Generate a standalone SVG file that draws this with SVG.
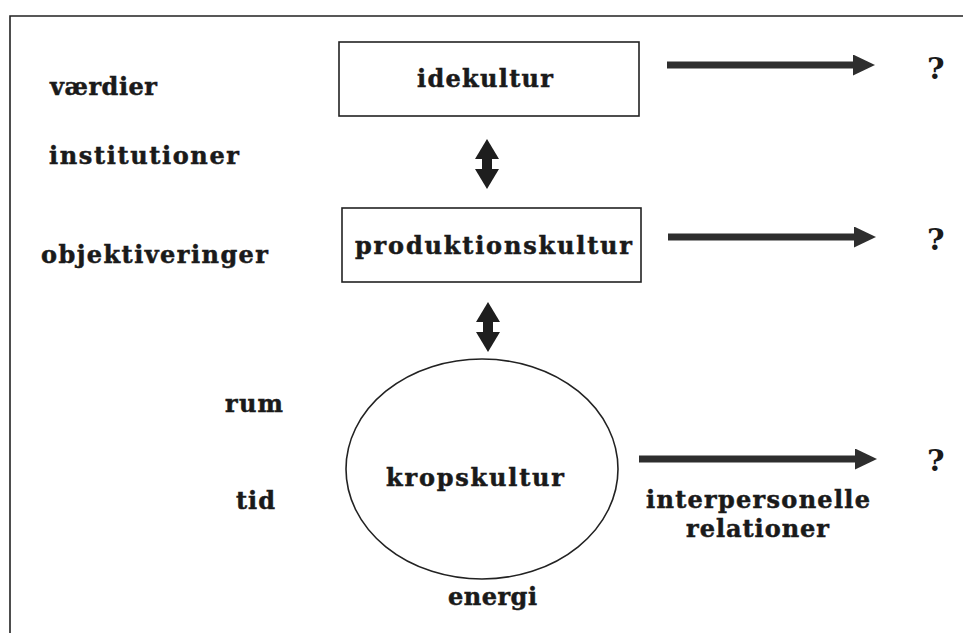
<svg xmlns="http://www.w3.org/2000/svg" width="963" height="633" viewBox="0 0 963 633">
<style>
.t{font-family:"DejaVu Serif","Liberation Serif",serif;font-weight:bold;font-size:24px;fill:#1a1a1a;stroke:#1a1a1a;stroke-width:0.5}
.q{font-family:"DejaVu Serif","Liberation Serif",serif;font-weight:bold;font-size:30px;fill:#1a1a1a}
.box{fill:#fff;stroke:#222;stroke-width:1.6}
.arr{stroke:#2e2e2e;stroke-width:7;fill:none}
.darr{stroke:#1e1e1e;stroke-width:10;fill:none}
</style>
<defs>
<marker id="head" markerUnits="userSpaceOnUse" markerWidth="23" markerHeight="22" refX="0" refY="10.5" orient="auto">
<path d="M0,0 L22,10.5 L0,21 z" fill="#2e2e2e"/>
</marker>
<marker id="dhead" markerUnits="userSpaceOnUse" markerWidth="21" markerHeight="25" refX="0" refY="12" orient="auto-start-reverse">
<path d="M0,0 L20,12 L0,24 z" fill="#1e1e1e"/>
</marker>
</defs>
<rect width="963" height="633" fill="#fff"/>
<g id="frame">
<path d="M10,633 L10,16 L963,16" fill="none" stroke="#222" stroke-width="1.6"/>
</g>
<g id="idekultur">
<rect class="box" x="339" y="42" width="300" height="74"/>
<text class="t" x="417" y="87" textLength="136" lengthAdjust="spacing">idekultur</text>
</g>
<g id="produktionskultur">
<rect class="box" x="342" y="208" width="299" height="74"/>
<text class="t" x="355" y="254" textLength="277" lengthAdjust="spacing">produktionskultur</text>
</g>
<g id="kropskultur">
<ellipse cx="482" cy="469" rx="136" ry="110" fill="#fff" stroke="#222" stroke-width="1.6"/>
<text class="t" x="386" y="486" textLength="178" lengthAdjust="spacing">kropskultur</text>
</g>
<g id="labels">
<text class="t" x="50" y="95" textLength="107" lengthAdjust="spacing">værdier</text>
<text class="t" x="49" y="164" textLength="190" lengthAdjust="spacing">institutioner</text>
<text class="t" x="41" y="263" textLength="227" lengthAdjust="spacing">objektiveringer</text>
<text class="t" x="225" y="412" textLength="58" lengthAdjust="spacing">rum</text>
<text class="t" x="236" y="509" textLength="39" lengthAdjust="spacing">tid</text>
<text class="t" x="448" y="605" textLength="89" lengthAdjust="spacing">energi</text>
<text class="t" x="646" y="508" textLength="224" lengthAdjust="spacing">interpersonelle</text>
<text class="t" x="686" y="537" textLength="143" lengthAdjust="spacing">relationer</text>
</g>
<g id="q1"><text class="q" x="927" y="79">?</text></g>
<g id="q2"><text class="q" x="927" y="250">?</text></g>
<g id="q3"><text class="q" x="927" y="471">?</text></g>
<g id="connectors">
<line class="arr" x1="667" y1="65" x2="853" y2="65" marker-end="url(#head)"/>
<line class="arr" x1="668" y1="237" x2="854" y2="237" marker-end="url(#head)"/>
<line class="arr" x1="639" y1="459" x2="855" y2="459" marker-end="url(#head)"/>
<line class="darr" x1="487" y1="159" x2="487" y2="169" marker-start="url(#dhead)" marker-end="url(#dhead)"/>
<line class="darr" x1="488" y1="322" x2="488" y2="332" marker-start="url(#dhead)" marker-end="url(#dhead)"/>
</g>
</svg>
